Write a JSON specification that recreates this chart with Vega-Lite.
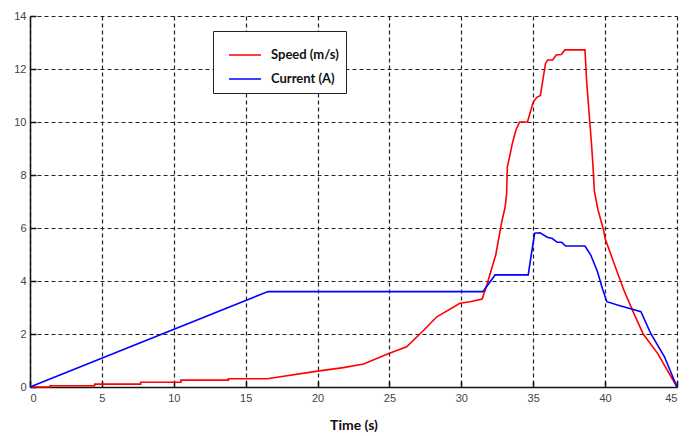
{
  "$schema": "https://vega.github.io/schema/vega-lite/v6.json",
  "width": 647,
  "height": 371,
  "autosize": {"type": "none"},
  "padding": {"left": 30, "top": 16, "right": 14, "bottom": 49},
  "background": "white",
  "config": {
    "view": {"stroke": null},
    "axis": {
      "domainColor": "#111",
      "domainWidth": 1.5,
      "tickColor": "#111",
      "tickSize": -6,
      "tickWidth": 1.5,
      "grid": true,
      "gridColor": "#222",
      "gridDash": [4, 3],
      "gridWidth": 1.2,
      "gridOpacity": 1,
      "labelFont": "Liberation Sans",
      "labelFontSize": 11,
      "labelColor": "#444"
    }
  },
  "data": {
    "values": [
      {"i": 1, "s": "Speed (m/s)", "t": 0, "v": 0},
      {"i": 2, "s": "Speed (m/s)", "t": 1.4, "v": 0},
      {"i": 3, "s": "Speed (m/s)", "t": 1.4, "v": 0.05},
      {"i": 4, "s": "Speed (m/s)", "t": 4.5, "v": 0.05},
      {"i": 5, "s": "Speed (m/s)", "t": 4.5, "v": 0.11},
      {"i": 6, "s": "Speed (m/s)", "t": 7.7, "v": 0.11},
      {"i": 7, "s": "Speed (m/s)", "t": 7.7, "v": 0.18},
      {"i": 8, "s": "Speed (m/s)", "t": 10.5, "v": 0.18},
      {"i": 9, "s": "Speed (m/s)", "t": 10.5, "v": 0.26},
      {"i": 10, "s": "Speed (m/s)", "t": 13.8, "v": 0.26},
      {"i": 11, "s": "Speed (m/s)", "t": 13.8, "v": 0.31},
      {"i": 12, "s": "Speed (m/s)", "t": 16.5, "v": 0.31},
      {"i": 13, "s": "Speed (m/s)", "t": 20, "v": 0.6},
      {"i": 14, "s": "Speed (m/s)", "t": 21.8, "v": 0.73},
      {"i": 15, "s": "Speed (m/s)", "t": 23.2, "v": 0.87},
      {"i": 16, "s": "Speed (m/s)", "t": 25, "v": 1.27},
      {"i": 17, "s": "Speed (m/s)", "t": 26.2, "v": 1.52},
      {"i": 18, "s": "Speed (m/s)", "t": 27.4, "v": 2.15},
      {"i": 19, "s": "Speed (m/s)", "t": 28.3, "v": 2.65},
      {"i": 20, "s": "Speed (m/s)", "t": 29.9, "v": 3.16},
      {"i": 21, "s": "Speed (m/s)", "t": 30.6, "v": 3.22},
      {"i": 22, "s": "Speed (m/s)", "t": 31.45, "v": 3.32},
      {"i": 23, "s": "Speed (m/s)", "t": 31.8, "v": 3.9},
      {"i": 24, "s": "Speed (m/s)", "t": 32.4, "v": 5.0},
      {"i": 25, "s": "Speed (m/s)", "t": 32.8, "v": 6.2},
      {"i": 26, "s": "Speed (m/s)", "t": 33.05, "v": 6.8},
      {"i": 27, "s": "Speed (m/s)", "t": 33.15, "v": 7.3},
      {"i": 28, "s": "Speed (m/s)", "t": 33.2, "v": 8.3},
      {"i": 29, "s": "Speed (m/s)", "t": 33.4, "v": 8.8},
      {"i": 30, "s": "Speed (m/s)", "t": 33.55, "v": 9.2},
      {"i": 31, "s": "Speed (m/s)", "t": 33.8, "v": 9.7},
      {"i": 32, "s": "Speed (m/s)", "t": 34.05, "v": 10.0},
      {"i": 33, "s": "Speed (m/s)", "t": 34.6, "v": 10.0},
      {"i": 34, "s": "Speed (m/s)", "t": 35.0, "v": 10.75},
      {"i": 35, "s": "Speed (m/s)", "t": 35.25, "v": 10.93},
      {"i": 36, "s": "Speed (m/s)", "t": 35.5, "v": 11.0},
      {"i": 37, "s": "Speed (m/s)", "t": 35.85, "v": 12.2},
      {"i": 38, "s": "Speed (m/s)", "t": 36.0, "v": 12.34},
      {"i": 39, "s": "Speed (m/s)", "t": 36.35, "v": 12.34},
      {"i": 40, "s": "Speed (m/s)", "t": 36.6, "v": 12.53},
      {"i": 41, "s": "Speed (m/s)", "t": 36.95, "v": 12.55},
      {"i": 42, "s": "Speed (m/s)", "t": 37.2, "v": 12.72},
      {"i": 43, "s": "Speed (m/s)", "t": 38.6, "v": 12.72},
      {"i": 44, "s": "Speed (m/s)", "t": 38.72, "v": 11.5},
      {"i": 45, "s": "Speed (m/s)", "t": 38.82, "v": 10.8},
      {"i": 46, "s": "Speed (m/s)", "t": 38.95, "v": 9.9},
      {"i": 47, "s": "Speed (m/s)", "t": 39.05, "v": 9.2},
      {"i": 48, "s": "Speed (m/s)", "t": 39.15, "v": 8.4},
      {"i": 49, "s": "Speed (m/s)", "t": 39.25, "v": 7.4},
      {"i": 50, "s": "Speed (m/s)", "t": 39.5, "v": 6.7},
      {"i": 51, "s": "Speed (m/s)", "t": 39.9, "v": 5.9},
      {"i": 52, "s": "Speed (m/s)", "t": 40.0, "v": 5.6},
      {"i": 53, "s": "Speed (m/s)", "t": 40.6, "v": 4.7},
      {"i": 54, "s": "Speed (m/s)", "t": 41.3, "v": 3.66},
      {"i": 55, "s": "Speed (m/s)", "t": 42.0, "v": 2.78},
      {"i": 56, "s": "Speed (m/s)", "t": 42.65, "v": 2.0},
      {"i": 57, "s": "Speed (m/s)", "t": 43.65, "v": 1.27},
      {"i": 58, "s": "Speed (m/s)", "t": 45, "v": 0},
      {"i": 1, "s": "Current (A)", "t": 0, "v": 0},
      {"i": 2, "s": "Current (A)", "t": 16.55, "v": 3.6},
      {"i": 3, "s": "Current (A)", "t": 31.5, "v": 3.6},
      {"i": 4, "s": "Current (A)", "t": 32.35, "v": 4.23},
      {"i": 5, "s": "Current (A)", "t": 34.65, "v": 4.23},
      {"i": 6, "s": "Current (A)", "t": 34.88, "v": 5.04},
      {"i": 7, "s": "Current (A)", "t": 35.1, "v": 5.8},
      {"i": 8, "s": "Current (A)", "t": 35.47, "v": 5.82},
      {"i": 9, "s": "Current (A)", "t": 35.98, "v": 5.65},
      {"i": 10, "s": "Current (A)", "t": 36.33, "v": 5.6},
      {"i": 11, "s": "Current (A)", "t": 36.67, "v": 5.46},
      {"i": 12, "s": "Current (A)", "t": 36.98, "v": 5.46},
      {"i": 13, "s": "Current (A)", "t": 37.26, "v": 5.32},
      {"i": 14, "s": "Current (A)", "t": 38.6, "v": 5.32},
      {"i": 15, "s": "Current (A)", "t": 39.0, "v": 4.98},
      {"i": 16, "s": "Current (A)", "t": 39.47, "v": 4.35},
      {"i": 17, "s": "Current (A)", "t": 39.81, "v": 3.72},
      {"i": 18, "s": "Current (A)", "t": 40.12, "v": 3.22},
      {"i": 19, "s": "Current (A)", "t": 41.09, "v": 3.06},
      {"i": 20, "s": "Current (A)", "t": 41.9, "v": 2.93},
      {"i": 21, "s": "Current (A)", "t": 42.49, "v": 2.84},
      {"i": 22, "s": "Current (A)", "t": 43.19, "v": 2.0},
      {"i": 23, "s": "Current (A)", "t": 44.12, "v": 1.15},
      {"i": 24, "s": "Current (A)", "t": 45, "v": 0}
    ]
  },
  "mark": {"type": "line", "strokeWidth": 1.6},
  "encoding": {
    "x": {
      "field": "t",
      "type": "quantitative",
      "scale": {"domain": [0, 45], "nice": false},
      "axis": {
        "values": [0, 5, 10, 15, 20, 25, 30, 35, 40, 45],
        "title": "Time (s)",
        "titleFont": "Lato",
        "titleFontSize": 14,
        "titleFontWeight": "bold",
        "titleColor": "#111",
        "titlePadding": 15,
        "labelPadding": 11
      }
    },
    "y": {
      "field": "v",
      "type": "quantitative",
      "scale": {"domain": [0, 14], "nice": false},
      "axis": {
        "values": [0, 2, 4, 6, 8, 10, 12, 14],
        "title": null,
        "labelPadding": 10
      }
    },
    "color": {
      "field": "s",
      "type": "nominal",
      "scale": {"domain": ["Speed (m/s)", "Current (A)"], "range": ["#ff0000", "#0000ff"]},
      "legend": {
        "title": null,
        "orient": "none",
        "legendX": 183,
        "legendY": 15,
        "direction": "vertical",
        "fillColor": "white",
        "strokeColor": "#222",
        "padding": 7,
        "rowPadding": -12,
        "symbolType": "stroke",
        "symbolSize": 1024,
        "symbolStrokeWidth": 1.5,
        "symbolOffset": 8,
        "labelOffset": 9,
        "labelFont": "Lato",
        "labelFontSize": 13,
        "labelFontWeight": "bold",
        "labelColor": "#111"
      }
    },
    "order": {"field": "i", "type": "quantitative"}
  }
}
